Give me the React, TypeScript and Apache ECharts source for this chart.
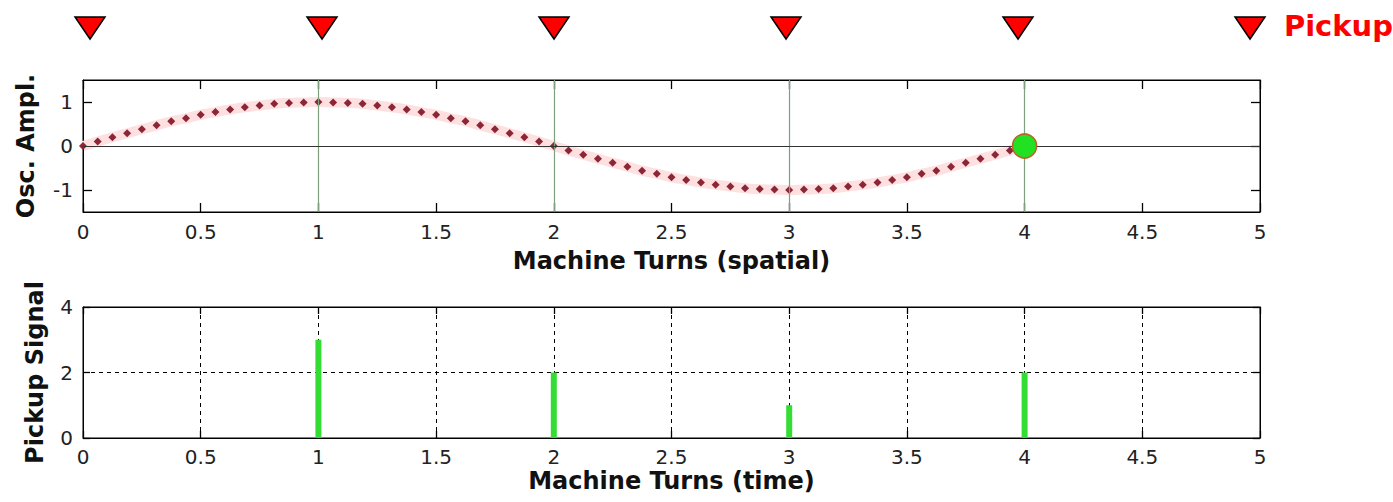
import React, { useEffect, useRef } from "react";
import * as echarts from "echarts";

// Oscillation (machine turns vs amplitude)
const turns = [
  0, 0.0625, 0.125, 0.1875, 0.25, 0.3125, 0.375, 0.4375, 0.5, 0.5625, 0.625, 0.6875, 0.75, 0.8125, 0.875, 0.9375,
  1, 1.0625, 1.125, 1.1875, 1.25, 1.3125, 1.375, 1.4375, 1.5, 1.5625, 1.625, 1.6875, 1.75, 1.8125, 1.875, 1.9375,
  2, 2.0625, 2.125, 2.1875, 2.25, 2.3125, 2.375, 2.4375, 2.5, 2.5625, 2.625, 2.6875, 2.75, 2.8125, 2.875, 2.9375,
  3, 3.0625, 3.125, 3.1875, 3.25, 3.3125, 3.375, 3.4375, 3.5, 3.5625, 3.625, 3.6875, 3.75, 3.8125, 3.875, 3.9375,
  4,
];
const amplitude = [
  0, 0.1, 0.2, 0.29, 0.38, 0.47, 0.56, 0.63, 0.71, 0.77, 0.83, 0.88, 0.92, 0.96, 0.98, 0.99,
  1.0, 0.99, 0.98, 0.96, 0.92, 0.88, 0.83, 0.77, 0.71, 0.63, 0.56, 0.47, 0.38, 0.29, 0.2, 0.1,
  0, -0.1, -0.2, -0.29, -0.38, -0.47, -0.56, -0.63, -0.71, -0.77, -0.83, -0.88, -0.92, -0.96, -0.98, -0.99,
  -1.0, -0.99, -0.98, -0.96, -0.92, -0.88, -0.83, -0.77, -0.71, -0.63, -0.56, -0.47, -0.38, -0.29, -0.2, -0.1,
  0,
];
const turnLines = [1, 2, 3, 4];
const bunchTurn = 4;
const bunchAmp = 0;
const ampTicks = [-1, 0, 1];

// Lower panel: pickup signal per turn
const pickupTurns = [1, 2, 3, 4];
const pickupSignal = [3, 2, 1, 2];

// Pickup markers along the top
const pickupMarks = [0, 1, 2, 3, 4, 5];
const pickupLabel = "Pickup";

const TICK_FONT = "DejaVu Sans, sans-serif";
const NAME_FONT = "DejaVu Sans, sans-serif";

export default function App() {
  const ref = useRef<HTMLDivElement>(null);
  useEffect(() => {
    document.body.style.margin = "0";
    const chart = echarts.init(ref.current!, null, { renderer: "svg" });
    const tickLabel = { fontFamily: TICK_FONT, fontSize: 20, lineHeight: 16, color: "#222" };
    const nameStyle = { fontFamily: NAME_FONT, fontSize: 24, lineHeight: 20, fontWeight: "bold" as const, color: "#111" };
    const frameLine = { show: true, onZero: false, lineStyle: { color: "#000", width: 1 } };
    const tickIn = (len: number, extra: object = {}) => ({
      show: true, inside: true, length: len, lineStyle: { color: "#000", width: 1.3 }, ...extra,
    });

    chart.setOption({
      animation: false,
      backgroundColor: "#fff",
      grid: [
        { left: 83, top: 80, width: 1177, height: 132, show: true, borderColor: "#000", borderWidth: 1 },
        { left: 83, top: 307, width: 1177, height: 131, show: true, borderColor: "#000", borderWidth: 1 },
        { left: 90, top: 0, width: 1160, height: 56 },
      ],
      xAxis: [
        {
          gridIndex: 0, type: "value", min: 0, max: 5, interval: 0.5, position: "bottom",
          axisLine: frameLine, axisTick: tickIn(9),
          axisLabel: { ...tickLabel, margin: 12 }, splitLine: { show: false },
          name: "Machine Turns (spatial)", nameLocation: "middle", nameGap: 39, nameTextStyle: nameStyle,
        },
        {
          gridIndex: 0, type: "value", min: 0, max: 5, interval: 0.5, position: "top",
          axisLine: frameLine, axisTick: tickIn(9),
          axisLabel: { show: false }, splitLine: { show: false },
        },
        {
          gridIndex: 1, type: "value", min: 0, max: 5, interval: 0.5, position: "bottom",
          axisLine: frameLine, axisTick: tickIn(7),
          axisLabel: { ...tickLabel, margin: 11 },
          splitLine: { show: true, lineStyle: { color: "#000", type: [4, 4], width: 1 } },
          name: "Machine Turns (time)", nameLocation: "middle", nameGap: 33, nameTextStyle: nameStyle,
        },
        {
          gridIndex: 1, type: "value", min: 0, max: 5, interval: 0.5, position: "top",
          axisLine: frameLine, axisTick: tickIn(7),
          axisLabel: { show: false }, splitLine: { show: false },
        },
        { gridIndex: 2, type: "value", min: 0, max: 5, show: false },
      ],
      yAxis: [
        {
          gridIndex: 0, type: "value", min: -1.5, max: 1.5, position: "left",
          axisLine: frameLine,
          axisTick: tickIn(9, { customValues: ampTicks }),
          axisLabel: { ...tickLabel, margin: 10, customValues: ampTicks }, splitLine: { show: false },
          name: "Osc. Ampl.", nameLocation: "middle", nameGap: 47, nameTextStyle: nameStyle,
        },
        {
          gridIndex: 0, type: "value", min: -1.5, max: 1.5, position: "right",
          axisLine: frameLine,
          axisTick: tickIn(9, { customValues: ampTicks }),
          axisLabel: { show: false }, splitLine: { show: false },
        },
        {
          gridIndex: 1, type: "value", min: 0, max: 4, interval: 2, position: "left",
          axisLine: frameLine, axisTick: tickIn(7),
          axisLabel: { ...tickLabel, margin: 10 },
          splitLine: { show: true, lineStyle: { color: "#000", type: [4, 4], width: 1 } },
          name: "Pickup Signal", nameLocation: "middle", nameGap: 38, nameTextStyle: nameStyle,
        },
        {
          gridIndex: 1, type: "value", min: 0, max: 4, interval: 2, position: "right",
          axisLine: frameLine, axisTick: tickIn(7),
          axisLabel: { show: false }, splitLine: { show: false },
        },
        { gridIndex: 2, type: "value", min: 0, max: 1, show: false },
      ],
      series: [
        {
          type: "line", xAxisIndex: 0, yAxisIndex: 0, silent: true,
          data: turnLines.map((t) => [t, 0]),
          lineStyle: { opacity: 0 }, symbol: "none",
          markLine: {
            silent: true, symbol: "none", label: { show: false },
            data: [
              ...turnLines.map((t) => ({ xAxis: t, lineStyle: { color: "#7f9f7f", width: 1.2, type: "solid" } })),
              { yAxis: 0, lineStyle: { color: "#333", width: 1.2, type: "solid" } },
            ],
          },
          z: 1,
        },
        {
          type: "line", xAxisIndex: 0, yAxisIndex: 0, smooth: true,
          data: turns.map((t, i) => [t, amplitude[i]]),
          lineStyle: { color: "#ffe0e0", width: 10 },
          symbol: "diamond", symbolSize: 8,
          itemStyle: { color: "#8c2535" },
          z: 3,
        },
        {
          type: "scatter", xAxisIndex: 0, yAxisIndex: 0,
          data: [[bunchTurn, bunchAmp]],
          symbol: "circle", symbolSize: 24,
          itemStyle: { color: "#22e022", borderColor: "#c0602a", borderWidth: 1.5, opacity: 1 },
          z: 5,
        },
        {
          type: "bar", xAxisIndex: 2, yAxisIndex: 2,
          data: pickupTurns.map((t, i) => [t, pickupSignal[i]]),
          barWidth: 6, itemStyle: { color: "#33dd33" }, z: 4,
        },
        {
          type: "scatter", xAxisIndex: 4, yAxisIndex: 4,
          data: pickupMarks.map((t, i) => ({
            value: [t, 0.5],
            label: i === pickupMarks.length - 1
              ? { show: true, position: "right", distance: 18, formatter: pickupLabel,
                  fontFamily: "DejaVu Sans, sans-serif", fontWeight: "bold", fontSize: 29, color: "#ff0000", offset: [0, -2] }
              : { show: false },
          })),
          symbol: "triangle", symbolRotate: 180, symbolSize: [30, 22],
          itemStyle: { color: "#ff0000", borderColor: "#000", borderWidth: 1.5, opacity: 1 },
        },
      ],
    });
    return () => chart.dispose();
  }, []);
  return <div ref={ref} style={{ width: 1393, height: 502 }} />;
}
